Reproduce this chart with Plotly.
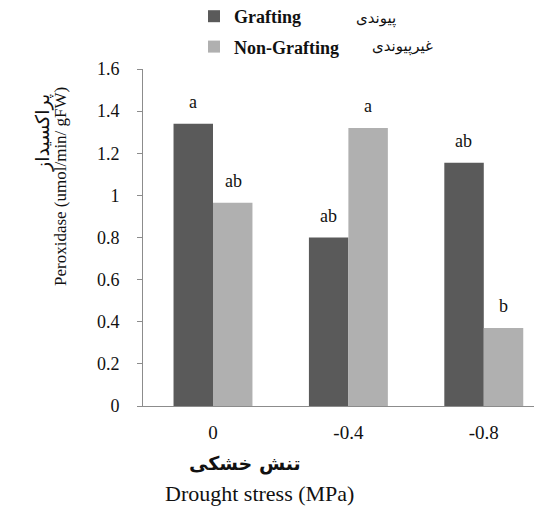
import plotly.graph_objects as go

# drought stress levels (MPa)
stress = ["0", "-0.4", "-0.8"]
grafting = [1.34, 0.80, 1.155]
non_grafting = [0.965, 1.32, 0.37]
grafting_letters = ["a", "ab", "ab"]
non_grafting_letters = ["ab", "a", "b"]
y_ticks = [0, 0.2, 0.4, 0.6, 0.8, 1, 1.2, 1.4, 1.6]

serif = "Liberation Serif, Times New Roman, serif"
persian = "DejaVu Sans, Noto Sans, sans-serif"

# page body has an 8px default margin, so the figure is 8px smaller
W, H = 534, 500
L, T, B = 135, 61, 102
PW, PH = W - L, H - T - B


def px(x):  # window pixel -> paper x
    return (x - 8 - L) / PW


def py(y):  # window pixel -> paper y
    return (H - B + 8 - y) / PH


fig = go.Figure()
fig.add_trace(go.Bar(x=stress, y=grafting, name="<b>Grafting</b>", legendgroup="g1",
                     marker=dict(color="#5a5a5a", line=dict(width=0))))
fig.add_trace(go.Bar(x=stress, y=non_grafting, name="<b>Non-Grafting</b>", legendgroup="g2",
                     marker=dict(color="#b0b0b0", line=dict(width=0))))

# significance letters above bars
for i in range(len(stress)):
    fig.add_annotation(x=i, y=grafting[i], text=grafting_letters[i], showarrow=False,
                       xanchor="center", yanchor="bottom",
                       xshift=-20, yshift=10, font=dict(family=serif, size=18, color="#111"))
    fig.add_annotation(x=i, y=non_grafting[i], text=non_grafting_letters[i], showarrow=False,
                       xanchor="center", yanchor="bottom",
                       xshift=20, yshift=10, font=dict(family=serif, size=18, color="#111"))


def label(x, y, text, font, angle=0):
    fig.add_annotation(xref="paper", yref="paper", x=px(x), y=py(y), text=text,
                       textangle=angle, showarrow=False, xanchor="center", yanchor="middle",
                       font=font)


# axis titles (Persian + English)
label(42, 133, "پراکسیداز", dict(family=persian, size=19, color="#111"), -90)
label(60, 187, "Peroxidase (umol/min/ gFW)", dict(family=serif, size=17, color="#111"), -90)
label(245, 463, "<b>تنش خشکی</b>", dict(family=persian, size=19, color="#111"))
label(259, 493, "Drought stress (MPa)", dict(family=serif, size=22, color="#111"))

# Persian legend labels (rendered to the right of the anchor, so compensate)
label(376, 18, "پیوندی", dict(family=persian, size=15, color="#111"))
label(402, 47, "غیرپیوندی", dict(family=persian, size=15, color="#111"))

fig.update_layout(
    width=W, height=H,
    margin=dict(l=L, r=0, t=T, b=B, autoexpand=False),
    paper_bgcolor="white", plot_bgcolor="white",
    barmode="group", bargap=0.417, bargroupgap=0,
    font=dict(family=serif, size=16, color="#111"),
    legend=dict(yref="paper", x=px(194), y=py(-2),
                xanchor="left", yanchor="top", traceorder="grouped",
                font=dict(family=serif, size=18, color="#111"), tracegroupgap=4,
                bgcolor="rgba(0,0,0,0)"),
)
fig.update_xaxes(type="category", range=[-0.517, 2.43], showline=True, linecolor="#8c8c8c",
                 linewidth=1, ticks="", showgrid=False, tickfont=dict(size=19), ticklabelstandoff=9)
fig.update_yaxes(range=[0, 1.6], tickvals=y_ticks, ticktext=[str(v) for v in y_ticks],
                 showline=True, linecolor="#8c8c8c", linewidth=1, ticks="outside",
                 ticklen=5, tickcolor="#8c8c8c", showgrid=False, zeroline=False,
                 tickfont=dict(size=18), ticklabelstandoff=14)

fig.write_html("out.html")
